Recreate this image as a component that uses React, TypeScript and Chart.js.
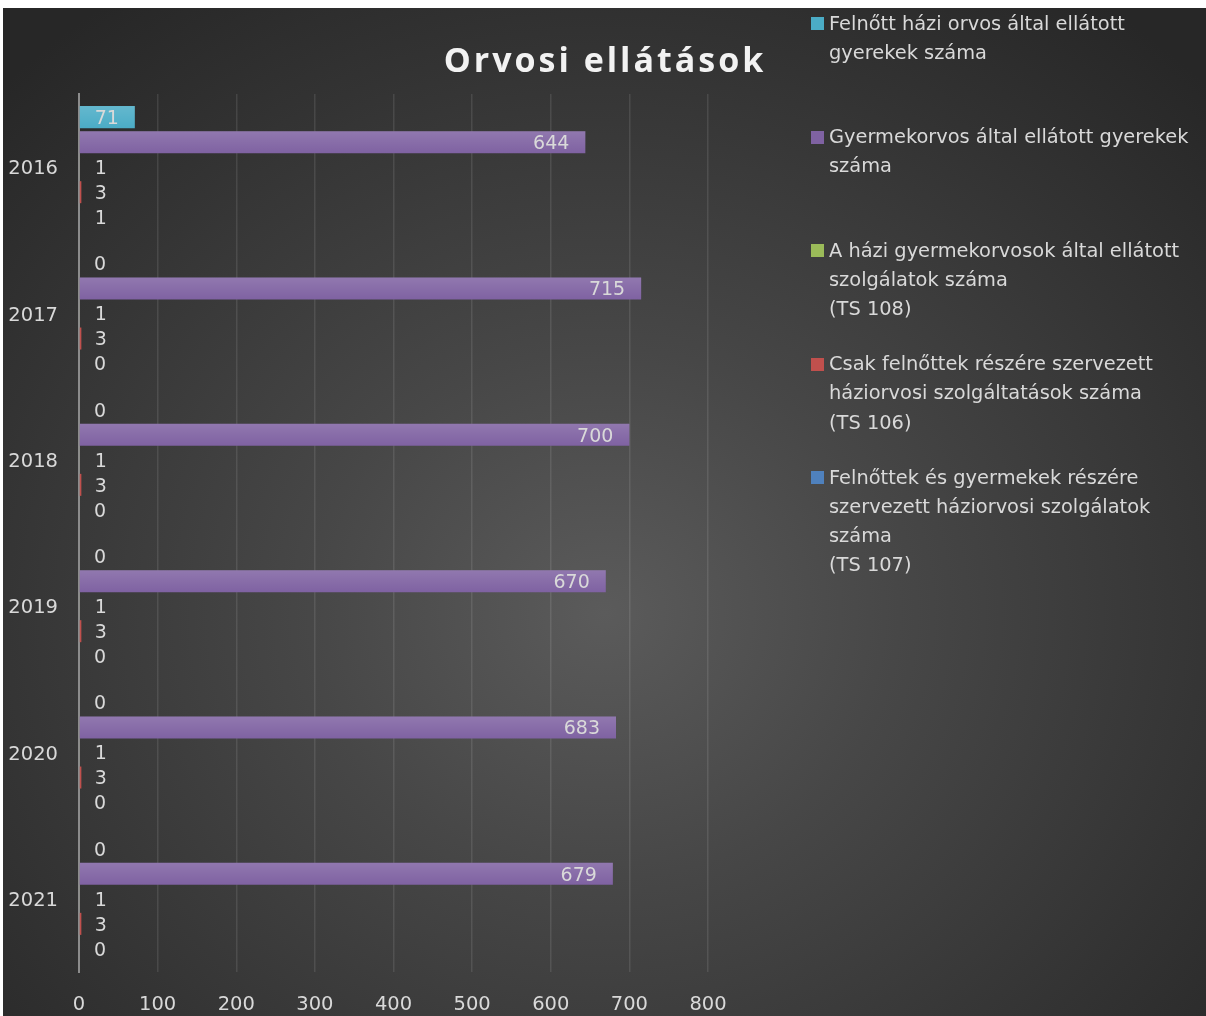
import React, { useEffect, useRef } from "react";
import { Chart, registerables } from "chart.js";

Chart.register(...registerables);

// ---- data ----
const categories = ["2016", "2017", "2018", "2019", "2020", "2021"];
const felnottHaziOrvos = [71, 0, 0, 0, 0, 0];
const gyermekorvos = [644, 715, 700, 670, 683, 679];
const haziGyermekorvosTS108 = [1, 1, 1, 1, 1, 1];
const csakFelnottekTS106 = [3, 3, 3, 3, 3, 3];
const felnottekGyermekekTS107 = [1, 0, 0, 0, 0, 0];

const xMin = 0;
const xMax = 800;
const xStep = 100;

const chartTitle = "Orvosi ellátások";

const seriesLabels: string[][] = [
  ["Felnőtt házi orvos által ellátott", "gyerekek száma"],
  ["Gyermekorvos által ellátott gyerekek", "száma"],
  ["A házi gyermekorvosok által ellátott", "szolgálatok száma", "(TS 108)"],
  ["Csak felnőttek részére szervezett", "háziorvosi szolgáltatások száma", "(TS 106)"],
  ["Felnőttek és gyermekek részére", "szervezett háziorvosi szolgálatok", "száma", "(TS 107)"],
];
const seriesValues = [
  felnottHaziOrvos,
  gyermekorvos,
  haziGyermekorvosTS108,
  csakFelnottekTS106,
  felnottekGyermekekTS107,
];
const seriesColors = ["#4bacc6", "#7f62a2", "#9bbb59", "#c0504d", "#4f81bd"];

const FONT = "'DejaVu Sans', sans-serif";
const TEXT = "#d9d9d9";

const W = 1203;
const H = 1008;

const barDecor = {
  id: "barDecor",
  afterDatasetsDraw(chart: any) {
    const ctx = chart.ctx as CanvasRenderingContext2D;
    ctx.save();
    chart.data.datasets.forEach((ds: any, di: number) => {
      const meta = chart.getDatasetMeta(di);
      meta.data.forEach((bar: any, i: number) => {
        const { x, y, base, height } = bar.getProps(["x", "y", "base", "height"], true);
        const len = x - base;
        if (len > 4) {
          const top = y - height / 2;
          const g = ctx.createLinearGradient(0, top, 0, top + height);
          g.addColorStop(0, "rgba(255,255,255,0.14)");
          g.addColorStop(1, "rgba(255,255,255,0)");
          ctx.fillStyle = g;
          ctx.fillRect(base, top, len, height);
        }
        const text = String(ds.data[i]);
        ctx.font = "19px " + FONT;
        const w = ctx.measureText(text).width;
        ctx.fillStyle = TEXT;
        ctx.textBaseline = "middle";
        if (len >= w + 30) {
          ctx.textAlign = "right";
          ctx.fillText(text, x - 16, y + 2);
        } else {
          ctx.textAlign = "left";
          ctx.fillText(text, base + 15, y + 2);
        }
      });
    });
    ctx.restore();
  },
};

export default function App() {
  const ref = useRef<HTMLCanvasElement | null>(null);

  useEffect(() => {
    if (!ref.current) return;
    const chart = new Chart(ref.current, {
      type: "bar",
      data: {
        labels: categories,
        datasets: seriesValues.map((vals, i) => ({
          label: seriesLabels[i].join(" "),
          data: vals,
          backgroundColor: seriesColors[i],
          borderWidth: 0,
          categoryPercentage: 0.855,
          barPercentage: 0.88,
        })),
      },
      options: {
        indexAxis: "y",
        responsive: false,
        animation: false,
        devicePixelRatio: 1,
        layout: { padding: { top: 86, right: 498, left: 0, bottom: 0 } },
        plugins: {
          legend: { display: false },
          title: { display: false },
          tooltip: { enabled: false },
        },
        scales: {
          x: {
            min: xMin,
            max: xMax,
            afterFit: (s: any) => {
              s.height = 44;
            },
            ticks: {
              stepSize: xStep,
              color: TEXT,
              font: { family: FONT, size: 19.5 },
              padding: 21,
            },
            grid: {
              color: "rgba(255,255,255,0.1)",
              lineWidth: 1.5,
              drawTicks: false,
            },
            border: { display: false },
          },
          y: {
            afterFit: (s: any) => {
              s.width = 76;
            },
            ticks: {
              color: TEXT,
              font: { family: FONT, size: 19.5 },
              padding: 21,
              labelOffset: 2,
            },
            grid: { display: false, drawTicks: false },
            border: { display: true, color: "#8c8c8c", width: 2 },
          },
        },
      },
      plugins: [barDecor],
    } as any);
    return () => chart.destroy();
  }, []);

  return (
    <div
      style={{
        position: "absolute",
        left: 3,
        top: 8,
        width: W,
        height: H,
        overflow: "hidden",
        background:
          "radial-gradient(ellipse 70% 75% at 50% 60%, #5b5b5b 0%, #474747 35%, #333333 75%, #272727 100%)",
      }}
    >
      <canvas
        ref={ref}
        width={W}
        height={H}
        style={{ position: "absolute", left: 0, top: 0, width: W, height: H }}
      />
      <div
        style={{
          position: "absolute",
          left: 302,
          top: 34,
          width: 600,
          textAlign: "center",
          fontFamily: "'Open Sans', sans-serif",
          fontWeight: 700,
          fontSize: 34,
          lineHeight: "34px",
          letterSpacing: 3,
          color: "#f2f2f2",
          whiteSpace: "nowrap",
        }}
      >
        {chartTitle}
      </div>
      {seriesLabels.map((lines, i) => (
        <div key={i}>
          <div
            style={{
              position: "absolute",
              left: 808,
              top: 9 + 113.5 * i,
              width: 13,
              height: 13,
              background: seriesColors[i],
            }}
          />
          <div
            style={{
              position: "absolute",
              left: 826,
              top: 0.6 + 113.5 * i,
              fontFamily: FONT,
              fontSize: 19.4,
              lineHeight: "29.3px",
              color: TEXT,
              whiteSpace: "nowrap",
            }}
          >
            {lines.map((l, j) => (
              <div key={j}>{l}</div>
            ))}
          </div>
        </div>
      ))}
    </div>
  );
}
